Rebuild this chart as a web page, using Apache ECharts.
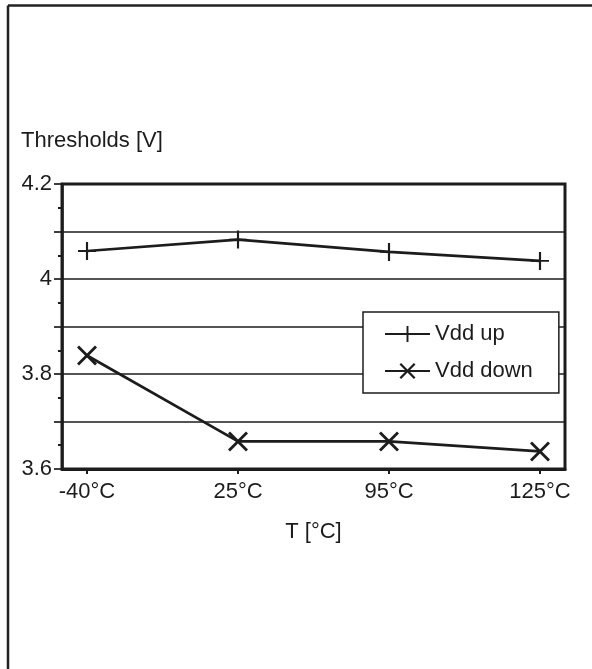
<!DOCTYPE html>
<html>
<head>
<meta charset="utf-8">
<script src="https://cdn.jsdelivr.net/npm/echarts@6/dist/echarts.min.js"></script>
<style>
html,body{margin:0;padding:0;background:#fff;}
#chart{width:592px;height:669px;}
</style>
</head>
<body>
<div id="chart"></div>
<script>
var categories = ['-40°C', '25°C', '95°C', '125°C'];
var vddUp = [4.059, 4.083, 4.057, 4.038];
var vddDown = [3.839, 3.658, 3.658, 3.637];
var seriesNames = ['Vdd up', 'Vdd down'];
var yTicks = [3.6, 3.8, 4.0, 4.2];

var FONT = 'Liberation Sans, Arial, sans-serif';
var INK = '#1c1c1c';

function pts(arr) { return arr.map(function (v, i) { return [i, v]; }); }

var plusPath = 'path://M-1.2,-10 L1.2,-10 L1.2,-1 L10,-1 L10,1 L1.2,1 L1.2,10 L-1.2,10 L-1.2,1 L-10,1 L-10,-1 L-1.2,-1 Z';
var crossPath = 'path://M-10,-8 L-8,-10 L0,-2 L8,-10 L10,-8 L2,0 L10,8 L8,10 L0,2 L-8,10 L-10,8 L-2,0 Z';

var chart = echarts.init(document.getElementById('chart'), null, {renderer: 'canvas'});
var idx = categories.map(function (c, i) { return i; });

chart.setOption({
  animation: false,
  backgroundColor: '#fff',
  textStyle: {fontFamily: FONT, color: INK},
  title: {
    text: 'Thresholds [V]',
    left: 21, top: 130,
    padding: 0,
    textStyle: {fontFamily: FONT, fontSize: 22, fontWeight: 'normal', color: INK}
  },
  grid: {
    left: 62, right: 27, top: 184, bottom: 200,
    show: true, borderWidth: 3, borderColor: INK, backgroundColor: 'transparent'
  },
  legend: {
    orient: 'vertical',
    left: 363, top: 312,
    padding: [11, 26, 11, 21],
    itemGap: 15,
    itemWidth: 45, itemHeight: 20,
    backgroundColor: '#fff',
    borderColor: INK, borderWidth: 1.5,
    textStyle: {fontFamily: FONT, fontSize: 22, color: INK},
    data: seriesNames
  },
  xAxis: {
    type: 'value',
    min: -0.1656, max: 3.1656,
    name: 'T [°C]',
    nameLocation: 'middle',
    nameGap: 52,
    nameTextStyle: {fontFamily: FONT, fontSize: 22, color: INK},
    axisLine: {show: true, onZero: false, lineStyle: {color: INK, width: 3}},
    axisTick: {show: true, customValues: idx, length: 5, lineStyle: {color: INK, width: 2}},
    axisLabel: {
      customValues: idx, margin: 12,
      fontFamily: FONT, fontSize: 22, color: INK,
      formatter: function (v) { return categories[Math.round(v)]; }
    },
    splitLine: {show: false}
  },
  yAxis: {
    type: 'value',
    min: 3.6, max: 4.2, interval: 0.1,
    axisLine: {show: true, onZero: false, lineStyle: {color: INK, width: 2.5}},
    axisTick: {show: true, length: 8, lineStyle: {color: INK, width: 1.7}},
    minorTick: {show: true, splitNumber: 2, length: 4, lineStyle: {color: INK, width: 2}},
    axisLabel: {
      margin: 10,
      fontFamily: FONT, fontSize: 22, color: INK,
      formatter: function (v) {
        for (var i = 0; i < yTicks.length; i++) {
          if (Math.abs(v - yTicks[i]) < 1e-6) return yTicks[i] % 1 === 0 ? String(yTicks[i].toFixed(0)) : String(yTicks[i]);
        }
        return '';
      }
    },
    splitLine: {show: true, lineStyle: {color: INK, width: 1.7}}
  },
  series: [
    {
      name: seriesNames[0], type: 'line',
      data: pts(vddUp),
      symbol: plusPath, symbolSize: 18,
      lineStyle: {color: INK, width: 2.7},
      itemStyle: {color: INK},
      z: 5
    },
    {
      name: seriesNames[1], type: 'line',
      data: pts(vddDown),
      symbol: crossPath, symbolSize: 20,
      lineStyle: {color: INK, width: 2.7},
      itemStyle: {color: INK},
      z: 5
    }
  ],
  graphic: [
    {type: 'line', shape: {x1: 8, y1: 5.5, x2: 592, y2: 5.5}, style: {stroke: '#222', lineWidth: 2.5}},
    {type: 'line', shape: {x1: 8, y1: 5.5, x2: 8, y2: 669}, style: {stroke: '#222', lineWidth: 2.5}}
  ]
});
</script>
</body>
</html>
